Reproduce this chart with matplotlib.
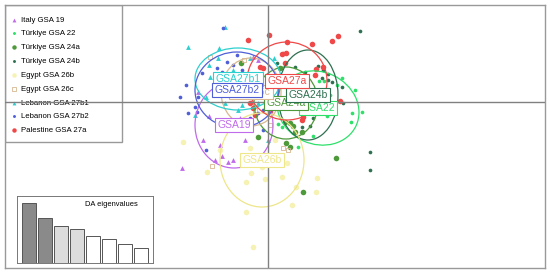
import matplotlib
matplotlib.use("Agg")
import matplotlib.pyplot as plt
from matplotlib.patches import Ellipse, Rectangle

plt.rcParams['font.family'] = ['Liberation Sans', 'DejaVu Sans']

# groups, in legend order
groups = ["Italy GSA 19", "Türkiye GSA 22", "Türkiye GSA 24a", "Türkiye GSA 24b",
          "Egypt GSA 26b", "Egypt GSA 26c", "Lebanon GSA 27b1", "Lebanon GSA 27b2",
          "Palestine GSA 27a"]
labels = ["GSA19", "GSA22", "GSA24a", "GSA24b", "GSA26b", "GSA26c", "GSA27b1", "GSA27b2", "GSA27a"]
colors = ["#C06BEB", "#2EE06A", "#4E9A3A", "#2E7050", "#EEE68A", "#D8B890",
          "#2ECFCF", "#4F5FD8", "#F04848"]
point_colors = ["#C06BEB", "#2EE06A", "#4E9A3A", "#2E7050", "#F6F2B4", "#D8B890",
                "#2ECFCF", "#4F5FD8", "#F04848"]
markers = ["^", "o", "o", "o", "o", "s", "^", "o", "o"]

# DA scores (LD1, LD2)
ld_19 = [(-2.95, -0.7), (-3.25, -1.9), (-1.15, -1.9), (-2.65, -2.9), (-2.0, -3.0), (-2.3, -2.7),
         (-1.75, -2.9), (-4.3, -3.3), (-3.5, 0.5), (-0.5, 2.1), (-1.9, -1.4), (-0.75, 2.25),
         (-1.4, -0.8), (-2.4, -2.15)]
ld_22 = [(3.7, 1.2), (2.55, 1.05), (2.8, 1.05), (3.45, 0.85), (4.7, -0.5), (4.2, -0.55),
         (4.15, -1.0), (4.35, 0.6), (2.25, -1.7), (2.95, -0.7), (0.7, -1.25), (0.5, -1.1),
         (1.5, -2.25), (3.1, 0.35)]
ld_24a = [(0.85, -1.0), (1.1, -1.05), (1.25, -1.2), (1.7, -1.5), (1.35, -1.5), (0.9, -2.05),
          (1.1, -2.25), (3.4, -2.8), (1.75, -4.5), (-1.35, 1.95), (-0.5, -1.75), (0.6, 1.7),
          (0.35, 0.1), (1.6, 1.25)]
ld_24b = [(4.6, 3.55), (2.5, 1.8), (2.75, 1.6), (3.0, 1.4), (3.2, 1.0), (3.7, 0.75), (2.7, 1.2),
          (1.35, 1.75), (1.85, 1.5), (0.45, 1.95), (3.0, 1.1), (2.75, -0.5), (2.25, -0.8),
          (2.1, -1.2), (3.75, -0.05), (5.1, -2.5), (5.1, -3.4), (1.7, -1.25)]
ld_26b = [(-4.25, -2.0), (-3.05, -3.5), (-0.9, -2.3), (-0.85, -3.55), (-1.1, -4.0), (-0.15, -3.85),
          (-0.3, -3.25), (0.7, -3.75), (2.45, -3.8), (2.4, -4.5), (1.4, -4.25), (1.2, -5.15),
          (-1.1, -5.5), (-0.75, -7.25), (0.95, -3.05), (-2.4, -2.4), (0.35, -1.9)]
ld_26c = [(-2.9, 2.25), (-1.2, 2.1), (-0.9, 1.35), (-1.4, -0.9), (0.75, -2.3), (-2.8, -3.2),
          (0.1, -1.15), (-2.1, -1.4), (-0.65, -0.4), (1.0, -2.4)]
ld_27b1 = [(-2.15, 3.75), (-2.45, 2.7), (-2.95, 1.85), (-2.5, 2.2), (-1.9, 0.85), (-1.75, 1.6),
           (0.75, 2.45), (0.3, 2.2), (-3.65, -0.65), (-3.1, 0.25), (-2.15, -0.05), (-1.3, -0.15),
           (-0.5, -0.05), (0.0, -1.9), (-2.9, 1.25), (-1.5, -0.4), (-4.0, 2.75), (-0.9, 2.2),
           (-1.15, 0.35)]
ld_27b2 = [(-2.25, 3.7), (-2.55, 1.7), (-2.3, 1.5), (-1.75, 1.85), (-1.55, 2.35), (-2.05, 2.0),
           (-3.3, 1.45), (-1.3, 1.6), (-4.4, 0.25), (-3.65, -0.25), (-3.55, -0.5), (-3.5, 0.25),
           (-0.25, -0.4), (-0.5, -0.55), (-4.0, -0.55), (-3.1, -2.4), (-0.25, -1.4), (-0.9, -0.8),
           (-4.1, 0.85)]
ld_27a = [(-1.0, 3.1), (-0.4, 1.75), (-0.25, 1.7), (0.05, 3.35), (0.95, 3.0), (2.2, 2.9),
          (3.2, 3.05), (3.5, 3.3), (0.7, 2.4), (0.9, 2.45), (0.85, 1.95), (2.4, 1.65), (2.75, 1.75),
          (2.35, 1.35), (1.7, -0.9), (1.75, -0.75), (3.6, 0.05), (-0.75, -0.3), (-0.65, -0.65),
          (-0.9, -0.05), (0.1, -0.45)]
scores = [ld_19, ld_22, ld_24a, ld_24b, ld_26b, ld_26c, ld_27b1, ld_27b2, ld_27a]

# ellipse centre, width, height, angle per group
centres = [(-1.7, -1.15), (2.5, -0.3), (0.9, -0.05), (2.0, 0.35), (-0.3, -2.9),
           (-0.85, 0.5), (-1.5, 1.15), (-1.55, 0.6), (0.95, 1.05)]
widths = [3.9, 4.2, 3.2, 3.0, 4.2, 3.0, 4.3, 4.2, 4.0]
heights = [4.3, 3.6, 3.6, 4.5, 4.7, 3.4, 3.1, 3.8, 3.9]
angles = [0, -25, 0, 0, 0, 0, 0, 0, 0]

eigenvalues = [60.4, 45.4, 36.7, 34.4, 26.7, 24.4, 19.0, 15.4]
eig_colors = ["#8a8a8a", "#8a8a8a", "#dcdcdc", "#dcdcdc", "white", "white", "white", "white"]

fig = plt.figure(figsize=(5.5, 2.75), dpi=100)
ax = fig.add_axes([5 / 550, 7 / 275, 540 / 550, 263 / 275])
ax.set_xlim(-13.15, 13.85)
ax.set_ylim(-8.3, 4.85)
ax.set_xticks([])
ax.set_yticks([])
for s in ax.spines.values():
    s.set_color("#999999")
    s.set_linewidth(1.0)

ax.axhline(0, color="#808080", lw=1.0, zorder=8)
ax.axvline(0, color="#808080", lw=1.0, zorder=8)

handles = []
for i, g in enumerate(groups):
    xs = [p[0] for p in scores[i]]
    ys = [p[1] for p in scores[i]]
    if markers[i] == "s":
        h = ax.scatter(xs, ys, marker="s", s=12, facecolors="none", edgecolors=point_colors[i],
                       linewidths=0.6, zorder=3, label=g)
    elif markers[i] == "^":
        h = ax.scatter(xs, ys, marker="^", s=12, color=point_colors[i], linewidths=0, zorder=3, label=g)
    else:
        sz = 16 if g in ("Palestine GSA 27a", "Türkiye GSA 24a", "Egypt GSA 26b") else 7
        h = ax.scatter(xs, ys, marker="o", s=sz, color=point_colors[i], linewidths=0, zorder=3, label=g)
    handles.append(h)

for i in range(len(groups)):
    ax.add_patch(Ellipse(centres[i], widths[i], heights[i], angle=angles[i], fill=False,
                         edgecolor=colors[i], lw=0.9, zorder=4))

for i in range(len(groups)):
    ax.text(centres[i][0], centres[i][1], labels[i], color=colors[i], fontsize=7.5,
            ha="center", va="center", zorder=10 + i,
            bbox=dict(boxstyle="square,pad=0.22", fc="white", ec=colors[i], lw=0.8))

# legend box
ax.add_patch(Rectangle((0, 1 - 137 / 263), 117 / 540, 137 / 263, transform=ax.transAxes,
                       fill=False, ec="#999999", lw=1.0, zorder=7))
leg = ax.legend(handles=handles, loc="upper left", bbox_to_anchor=(0.0, 0.978), frameon=False,
                fontsize=5.6, labelspacing=0.82, handletextpad=0.4, handlelength=1.0,
                markerscale=0.8, borderaxespad=0.3)
leg.set_zorder(6)

# eigenvalue inset
ins = fig.add_axes([17 / 550, 12 / 275, 136 / 550, 67 / 275])
ins.bar(range(len(eigenvalues)), eigenvalues, width=0.875, color=eig_colors,
        edgecolor="#555555", lw=0.7)
ins.set_xlim(-0.75, 7.75)
ins.set_ylim(0, 67)
ins.set_xticks([])
ins.set_yticks([])
for s in ins.spines.values():
    s.set_color("#777777")
    s.set_linewidth(0.7)
ins.text(0.5, 0.88, "DA eigenvalues", transform=ins.transAxes, fontsize=5.4, ha="left", va="center")

fig.savefig("out.png", dpi=100)
